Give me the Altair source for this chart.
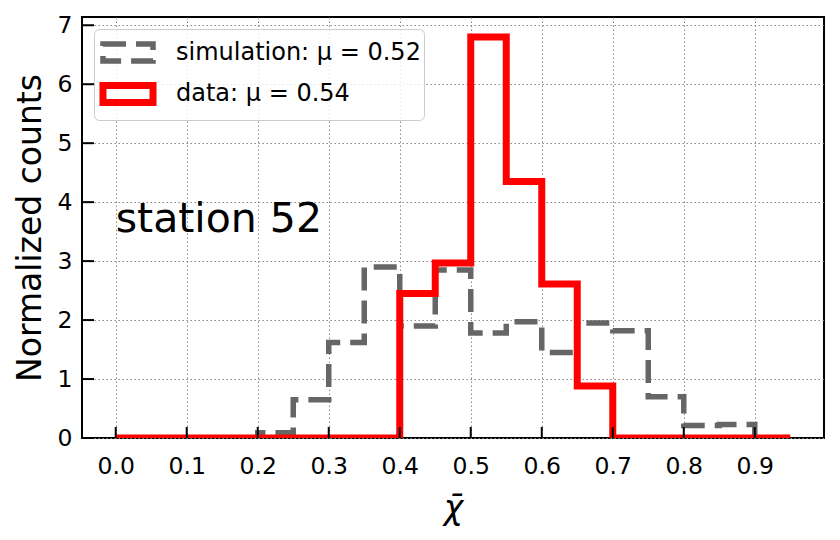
import altair as alt
import pandas as pd

# ---- data ----
bin_edges = [0.00, 0.05, 0.10, 0.15, 0.20, 0.25, 0.30, 0.35, 0.40, 0.45,
             0.50, 0.55, 0.60, 0.65, 0.70, 0.75, 0.80, 0.85, 0.90, 0.95]
sim_counts = [0.0, 0.0, 0.0, 0.0, 0.09, 0.65, 1.62, 2.90, 1.90, 2.85,
              1.78, 1.97, 1.45, 1.95, 1.82, 0.70, 0.21, 0.23, 0.0]
data_counts = [0.0, 0.0, 0.0, 0.0, 0.0, 0.0, 0.0, 0.0, 2.45, 2.97,
               6.80, 4.35, 2.61, 0.88, 0.0, 0.0, 0.0, 0.0, 0.0]
series_names = ["simulation: μ = 0.52", "data: μ = 0.54"]
x_ticks = [0.0, 0.1, 0.2, 0.3, 0.4, 0.5, 0.6, 0.7, 0.8, 0.9]
y_ticks = [0, 1, 2, 3, 4, 5, 6, 7]
annotation = "station 52"

rows = []
for name, vals in zip(series_names, [sim_counts, data_counts]):
    for e, v in zip(bin_edges[:-1], vals):
        rows.append({"x": e, "y": v, "series": name})
    rows.append({"x": bin_edges[-1], "y": vals[-1], "series": name})
df = pd.DataFrame(rows)

W, H = 742, 421
FONT = "DejaVu Sans"

xscale = alt.Scale(domain=[-0.0475, 0.9975], nice=False, zero=False)
yscale = alt.Scale(domain=[0, 7.14], nice=False, zero=False)

color_s = alt.Scale(domain=series_names, range=["#666666", "#ff0000"])
dash_s = alt.Scale(domain=series_names, range=[[23, 10], [1, 0]])
width_s = alt.Scale(domain=series_names, range=[5.5, 7])

legend = alt.Legend(
    title=None, orient="top-left", offset=12, padding=3,
    symbolType="M-1.43,-0.486H1.43V0.486H-1.43Z", symbolSize=1225,
    symbolFillColor="transparent", symbolOffset=10,
    labelFontSize=24, labelFont=FONT, labelColor="black", labelLimit=0,
    labelOffset=27, rowPadding=-2,
    fillColor="rgba(255,255,255,0.8)", strokeColor="#cccccc", cornerRadius=5,
)

xaxis = alt.Axis(values=x_ticks, format=".1f", title="χ̄", grid=True,
                 ticks=False, domain=False, labelPadding=16, titlePadding=15,
                 titleFontStyle="italic")
yaxis = alt.Axis(values=y_ticks, format="d", title="Normalized counts", grid=True,
                 ticks=False, domain=False, labelPadding=10, titlePadding=10)

def hist_layer(name):
    return alt.Chart(df).transform_filter(alt.datum.series == name).mark_line(
        interpolate="step-after", clip=True
    ).encode(
        x=alt.X("x:Q", scale=xscale, axis=xaxis),
        y=alt.Y("y:Q", scale=yscale, axis=yaxis),
        color=alt.Color("series:N", scale=color_s, legend=legend),
        strokeDash=alt.StrokeDash("series:N", scale=dash_s, legend=legend),
        strokeWidth=alt.StrokeWidth("series:N", scale=width_s, legend=legend),
    )

sim_layer = hist_layer(series_names[0])
data_layer = hist_layer(series_names[1])

text_layer = alt.Chart(pd.DataFrame({"x": [0.0], "y": [3.5], "t": [annotation]})).mark_text(
    align="left", baseline="alphabetic", fontSize=41, font=FONT, color="black"
).encode(
    x=alt.X("x:Q", scale=xscale, axis=xaxis),
    y=alt.Y("y:Q", scale=yscale, axis=yaxis),
    text="t:N",
)

xtick_layer = alt.Chart(pd.DataFrame({"t": x_ticks})).mark_rule(
    color="black", strokeWidth=2
).encode(
    x=alt.X("t:Q", scale=xscale, axis=xaxis),
    y=alt.value(H), y2=alt.value(H - 11),
)
ytick_layer = alt.Chart(pd.DataFrame({"t": y_ticks})).mark_rule(
    color="black", strokeWidth=2
).encode(
    y=alt.Y("t:Q", scale=yscale, axis=yaxis),
    x=alt.value(0), x2=alt.value(12),
)

chart = alt.layer(sim_layer, data_layer, text_layer, xtick_layer, ytick_layer).properties(
    width=W, height=H,
    autosize=alt.AutoSizeParams(type="none"),
    padding={"left": 74, "top": 9, "right": 8, "bottom": 90},
    background="white",
).configure_view(
    stroke="black", strokeWidth=2
).configure_axis(
    labelFont=FONT, labelFontSize=23.5, labelColor="black",
    titleFont=FONT, titleFontSize=33, titleColor="black", titleFontWeight="normal",
    gridColor="#8a8a8a", gridDash=[1.5, 2.5], gridWidth=1,
)

chart.save("out.html", embed_options={"renderer": "svg", "actions": False})
